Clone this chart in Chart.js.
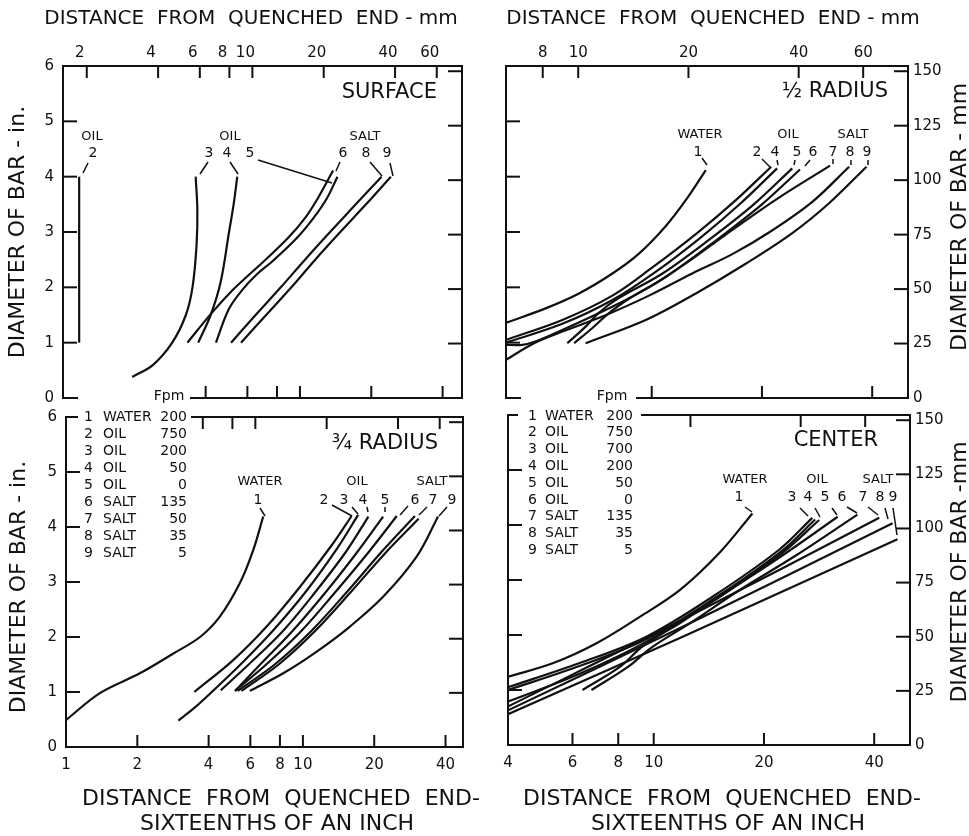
<!DOCTYPE html>
<html>
<head>
<meta charset="utf-8">
<script src="https://cdn.jsdelivr.net/npm/chart.js@4.4.1/dist/chart.umd.min.js"></script>
<style>
  html, body { margin: 0; padding: 0; background: #fff; }
  #wrap { position: relative; width: 969px; height: 836px; }
  #wrap canvas { position: absolute; left: 0; top: 0; }
</style>
</head>
<body>
<div id="wrap">
  <canvas id="surface" width="969" height="836"></canvas>
  <canvas id="half" width="969" height="836"></canvas>
  <canvas id="threeq" width="969" height="836"></canvas>
  <canvas id="center" width="969" height="836"></canvas>
</div>
<script>
// curves: [distance from quenched end (1/16 in), bar diameter (in)]
// surface
const surf2 = [[1.17, 1.0], [1.17, 4.0]];
const surf3 = [[1.96, 0.38], [2.4, 0.6], [2.89, 1.0], [3.3, 1.5], [3.52, 2.0], [3.66, 2.75], [3.69, 3.4], [3.63, 4.0]];
const surf4 = [[3.72, 1.0], [4.2, 1.5], [4.63, 2.1], [5.02, 3.0], [5.25, 3.5], [5.44, 4.0]];
const surf5 = [[3.35, 1.0], [4.21, 1.52], [5.2, 1.95], [6.0, 2.2], [7.08, 2.48], [8.9, 2.89], [10.5, 3.25], [11.9, 3.61], [13.8, 4.11]];
const surf6 = [[4.42, 1.0], [5.0, 1.6], [5.7, 1.95], [6.6, 2.24], [7.7, 2.48], [9.7, 2.89], [11.4, 3.25], [13.0, 3.61], [14.4, 4.0]];
const surf8 = [[5.12, 1.0], [6.5, 1.5], [8.3, 2.0], [10.5, 2.5], [13.4, 3.0], [17.2, 3.5], [22.1, 4.0]];
const surf9 = [[5.64, 1.0], [7.2, 1.5], [9.2, 2.0], [11.6, 2.5], [14.8, 3.0], [19.0, 3.5], [24.2, 4.0]];

// 1/2 radius
const half1 = [[4.0, 1.36], [5.13, 1.62], [6.33, 1.89], [7.81, 2.25], [9.23, 2.61], [10.9, 3.1], [12.4, 3.58], [14.05, 4.12]];
const half2 = [[4.0, 1.05], [5.7, 1.41], [7.81, 1.85], [10.0, 2.35], [13.3, 2.98], [17.0, 3.58], [21.2, 4.18]];
const half4 = [[4.0, 1.0], [5.7, 1.34], [7.81, 1.77], [10.2, 2.27], [13.6, 2.9], [17.5, 3.52], [22.0, 4.15]];
const half5 = [[5.88, 0.99], [6.6, 1.29], [7.2, 1.55], [8.1, 1.8], [10.7, 2.25], [14.6, 2.9], [19.0, 3.5], [24.2, 4.15]];
const half6 = [[6.14, 0.99], [6.9, 1.27], [7.6, 1.52], [8.6, 1.78], [11.0, 2.2], [15.0, 2.85], [20.0, 3.5], [25.4, 4.13]];
const half7 = [[4.0, 0.96], [4.43, 0.96], [4.81, 1.02], [5.7, 1.23], [7.8, 1.65], [9.83, 2.0], [12.5, 2.45], [15.9, 2.95], [22.0, 3.6], [30.7, 4.2]];
const half8 = [[4.0, 0.69], [4.77, 0.99], [5.7, 1.2], [7.5, 1.5], [9.83, 1.85], [12.9, 2.25], [16.6, 2.6], [21.0, 3.0], [27.5, 3.55], [34.6, 4.18]];
const half9 = [[6.6, 0.99], [9.63, 1.41], [13.2, 1.89], [18.1, 2.43], [24.2, 2.98], [30.5, 3.52], [38.6, 4.18]];

// 3/4 radius
const tq1 = [[1.0, 0.49], [1.39, 0.98], [2.05, 1.34], [2.84, 1.7], [3.68, 2.0], [4.46, 2.37], [5.42, 2.98], [6.17, 3.58], [6.8, 4.19]];
const tq2 = [[3.48, 1.0], [5.08, 1.58], [7.03, 2.19], [9.71, 2.91], [13.4, 3.7], [16.05, 4.2]];
const tq3 = [[2.98, 0.48], [3.5, 0.72], [4.17, 1.02], [5.6, 1.55], [7.6, 2.15], [10.4, 2.85], [14.0, 3.62], [17.1, 4.22]];
const tq4 = [[4.5, 1.03], [5.9, 1.5], [8.2, 2.1], [11.2, 2.8], [15.2, 3.55], [18.9, 4.19]];
const tq5 = [[5.17, 1.02], [6.6, 1.5], [9.0, 2.1], [12.4, 2.8], [17.0, 3.55], [21.8, 4.19]];
const tq6 = [[5.17, 1.02], [7.0, 1.5], [9.8, 2.1], [13.6, 2.8], [19.0, 3.55], [24.9, 4.2]];
const tq7 = [[5.3, 1.02], [7.6, 1.5], [10.8, 2.1], [15.2, 2.8], [21.5, 3.55], [29.7, 4.2]];
const tq8 = [[5.5, 1.02], [7.9, 1.5], [11.2, 2.1], [15.8, 2.8], [22.2, 3.52], [30.8, 4.15]];
const tq9 = [[5.97, 1.02], [8.26, 1.34], [11.4, 1.73], [15.8, 2.19], [21.8, 2.73], [30.2, 3.46], [37.2, 4.19]];

// center
const ctr1 = [[4.0, 1.24], [5.32, 1.49], [6.98, 1.85], [9.16, 2.33], [11.8, 2.82], [15.1, 3.49], [18.6, 4.21]];
const ctr2 = [[4.0, 1.0], [6.3, 1.44], [9.6, 1.93], [14.6, 2.66], [22.3, 3.52], [27.6, 4.1]];
const ctr3 = [[4.0, 1.05], [6.28, 1.49], [9.55, 1.97], [14.5, 2.7], [22.0, 3.55], [27.1, 4.13]];
const ctr4 = [[4.0, 0.79], [6.3, 1.3], [9.5, 1.87], [14.5, 2.62], [22.5, 3.5], [28.3, 4.09]];
const ctr5 = [[6.39, 1.0], [8.08, 1.42], [9.35, 1.8], [12.0, 2.25], [16.0, 2.8], [22.5, 3.45], [31.8, 4.15]];
const ctr6 = [[6.76, 1.0], [8.5, 1.42], [9.9, 1.78], [12.6, 2.22], [17.0, 2.8], [24.5, 3.45], [36.0, 4.19]];
const ctr7 = [[4.0, 0.7], [12.0, 2.28], [41.3, 4.13]];
const ctr8 = [[4.0, 0.63], [12.0, 2.15], [44.9, 4.03]];
const ctr9 = [[4.0, 0.56], [12.0, 1.97], [46.3, 3.74]];

// tick values
const inchLabels = [0, 1, 2, 3, 4, 5, 6];
const inchTicks = [1, 2, 3, 4, 5];
const mmDiaLabels = [0, 25, 50, 75, 100, 125, 150];
const mmDiaTicks = [25, 50, 75, 100, 125, 150];
const leftSixteenthLabels = [1, 2, 4, 6, 8, 10, 20, 40];
const rightSixteenthLabels = [4, 6, 8, 10, 20, 40];
const leftMmLabels = [2, 4, 6, 8, 10, 20, 40, 60];
const rightMmLabels = [8, 10, 20, 40, 60];

// legend tables
const legendNoA = [1, 2, 3, 4, 5, 6, 7, 8, 9];
const legendMediumA = ["WATER", "OIL", "OIL", "OIL", "OIL", "SALT", "SALT", "SALT", "SALT"];
const legendFpmA = [200, 750, 200, 50, 0, 135, 50, 35, 5];
const legendNoB = [1, 2, 3, 4, 5, 6, 7, 8, 9];
const legendMediumB = ["WATER", "OIL", "OIL", "OIL", "OIL", "OIL", "SALT", "SALT", "SALT"];
const legendFpmB = [200, 750, 700, 200, 50, 0, 135, 35, 5];

const INK = "#111";
const FONT = '"DejaVu Sans", sans-serif';
const MM_PER_16TH = 1.5875;
const MM_PER_IN = 25.4;
const AX = 44;

Chart.defaults.font.family = FONT;
Chart.defaults.color = INK;

const annotate = {
  id: "annotate",
  afterDraw(chart, args, o) {
    const ctx = chart.ctx;
    const s = chart.scales;
    const a = chart.chartArea;
    const seg = (x1, y1, x2, y2) => {
      ctx.beginPath();
      ctx.moveTo(x1, y1);
      ctx.lineTo(x2, y2);
      ctx.stroke();
    };
    ctx.save();
    ctx.strokeStyle = INK;
    ctx.lineWidth = 2;
    // inward tick marks
    o.tickX.forEach((v) => { const x = s.x.getPixelForValue(v); seg(x, a.bottom, x, a.bottom - 12); });
    o.tickX2.forEach((v) => { const x = s.x2.getPixelForValue(v * MM_PER_16TH); seg(x, a.top, x, a.top + 12); });
    inchTicks.forEach((v) => { const y = s.y.getPixelForValue(v); seg(a.left, y, a.left + 14, y); });
    mmDiaTicks.forEach((v) => { const y = s.y2.getPixelForValue(v); seg(a.right, y, a.right - 14, y); });
    // breaks in the frame
    ctx.fillStyle = "#fff";
    o.gaps.forEach((g) => ctx.fillRect(g[0], g[1], g[2] - g[0], g[3] - g[1]));
    // leaders
    ctx.lineWidth = 1.5;
    o.leaders.forEach((l) => seg(l[0], l[1], l[2], l[3]));
    // texts
    ctx.fillStyle = INK;
    ctx.textBaseline = "middle";
    o.texts.forEach((t) => {
      ctx.font = (t[3] || 14) + "px " + FONT;
      ctx.textAlign = t[4] || "center";
      ctx.fillText(t[0], t[1], t[2]);
    });
    o.vtexts.forEach((t) => {
      ctx.save();
      ctx.translate(t[1], t[2]);
      ctx.rotate(-Math.PI / 2);
      ctx.font = t[3] + "px " + FONT;
      ctx.textAlign = "center";
      ctx.fillText(t[0], 0, 0);
      ctx.restore();
    });
    if (o.legend) {
      const L = o.legend;
      ctx.font = "14px " + FONT;
      L.no.forEach((n, i) => {
        const y = L.y0 + i * L.dy;
        ctx.textAlign = "right";
        ctx.fillText(String(n), L.xNo, y);
        ctx.textAlign = "left";
        ctx.fillText(L.medium[i], L.xName, y);
        ctx.textAlign = "right";
        ctx.fillText(String(L.fpm[i]), L.xFpm, y);
      });
    }
    ctx.restore();
  },
};

function axis(type, position, min, max, labels, pad, extra) {
  return Object.assign({
    type: type,
    position: position,
    min: min,
    max: max,
    grid: { display: false, drawTicks: false },
    border: { display: true, color: INK, width: 2 },
    ticks: {
      display: labels.length > 0,
      autoSkip: false,
      maxRotation: 0,
      padding: pad,
      color: INK,
      font: { size: 15 },
      callback: (v) => String(v),
    },
    afterBuildTicks: (sc) => {
      const vals = labels.length > 0 ? labels : [min, max];
      sc.ticks = vals.map((v) => ({ value: v }));
    },
    afterFit: (sc) => {
      if (sc.isHorizontal()) sc.height = AX;
      else sc.width = AX;
    },
  }, extra || {});
}

function makePanel(id, p) {
  const [l, r, t, b] = p.area;
  new Chart(document.getElementById(id), {
    type: "scatter",
    data: {
      datasets: p.series.map((pts) => ({
        data: pts.map(([x, y]) => ({ x: x, y: y })),
        showLine: true,
        borderColor: INK,
        borderWidth: 2.2,
        pointRadius: 0,
        tension: 0.35,
        fill: false,
      })),
    },
    options: {
      responsive: false,
      animation: false,
      devicePixelRatio: 1,
      events: [],
      layout: { padding: { left: l - AX, right: 969 - r - AX, top: t - AX, bottom: 836 - b - AX } },
      scales: {
        x: axis("logarithmic", "bottom", p.xMin, p.xMax, p.xLabels, 9),
        x2: axis("logarithmic", "top", p.xMin * MM_PER_16TH, p.xMax * MM_PER_16TH,
          p.mmLabels.map((v) => v), 4, p.x2Extra),
        y: axis("linear", "left", 0, 6, p.inLabels, 9),
        y2: axis("linear", "right", 0, 6 * MM_PER_IN, p.mmDiaLabels, 5),
      },
      plugins: {
        legend: { display: false },
        tooltip: { enabled: false },
        annotate: p.annot,
      },
    },
    plugins: [annotate],
  });
}

makePanel("surface", {
  area: [63, 462, 66, 398],
  xMin: 1, xMax: 48.3,
  xLabels: [], mmLabels: leftMmLabels, inLabels: inchLabels, mmDiaLabels: [],
  x2Extra: { ticks: { display: true, autoSkip: false, maxRotation: 0, padding: 4, labelOffset: -7, color: INK, font: { size: 15 }, callback: (v) => String(v) } },
  series: [surf2, surf3, surf4, surf5, surf6, surf8, surf9],
  annot: {
    tickX: [4, 6, 8, 10, 20, 40],
    tickX2: [2, 4, 6, 8, 10, 20, 40, 60].map((v) => v / MM_PER_16TH),
    gaps: [[78, 393, 190, 403]],
    leaders: [[88, 163, 83, 173], [208, 162, 200, 174], [230, 162, 238, 174], [258, 160, 332, 183],
      [340, 162, 336, 171], [370, 162, 382, 176], [390, 163, 393, 176]],
    texts: [
      ["SURFACE", 437, 93, 21, "right"],
      ["OIL", 92, 137, 13], ["2", 93, 153, 14],
      ["OIL", 230, 137, 13], ["3", 209, 153, 14], ["4", 227, 153, 14], ["5", 250, 153, 14],
      ["SALT", 365, 137, 13], ["6", 343, 153, 14], ["8", 366, 153, 14], ["9", 387, 153, 14],
      ["Fpm", 169, 396, 14],
      ["DISTANCE  FROM  QUENCHED  END - mm", 251, 19, 20],
    ],
    vtexts: [["DIAMETER OF BAR - in.", 18, 232, 22]],
  },
});

makePanel("half", {
  area: [506, 908, 66, 398],
  xMin: 4, xMax: 50.1,
  xLabels: [], mmLabels: rightMmLabels, inLabels: [], mmDiaLabels: mmDiaLabels,
  series: [half1, half2, half4, half5, half6, half7, half8, half9],
  annot: {
    tickX: [10, 20, 40],
    tickX2: rightMmLabels.map((v) => v / MM_PER_16TH),
    gaps: [[521, 393, 636, 403]],
    leaders: [[702, 158, 707, 165], [762, 159, 770, 167], [777, 160, 778, 165], [795, 160, 794, 165],
      [810, 160, 805, 166], [833, 159, 833, 164], [851, 160, 851, 165], [868, 160, 868, 165]],
    texts: [
      ["\u00BD RADIUS", 888, 92, 21, "right"],
      ["WATER", 700, 135, 13], ["1", 698, 152, 14],
      ["OIL", 788, 135, 13], ["SALT", 853, 135, 13],
      ["2", 757, 152, 14], ["4", 775, 152, 14], ["5", 797, 152, 14], ["6", 813, 152, 14],
      ["7", 833, 152, 14], ["8", 850, 152, 14], ["9", 867, 152, 14],
      ["Fpm", 612, 396, 14],
      ["DISTANCE  FROM  QUENCHED  END - mm", 713, 19, 20],
    ],
    vtexts: [["DIAMETER OF BAR - mm", 960, 217, 22]],
  },
});

makePanel("threeq", {
  area: [66, 463, 417, 747],
  xMin: 1, xMax: 47.4,
  xLabels: leftSixteenthLabels, mmLabels: [], inLabels: inchLabels, mmDiaLabels: [],
  series: [tq1, tq2, tq3, tq4, tq5, tq6, tq7, tq8, tq9],
  annot: {
    tickX: [2, 4, 6, 8, 10, 20, 40],
    tickX2: [6, 8, 10, 20, 40, 60].map((v) => v / MM_PER_16TH),
    gaps: [[78, 412, 191, 422]],
    leaders: [[260, 508, 265, 516], [332, 505, 352, 516], [352, 507, 358, 514], [367, 507, 368, 512],
      [385, 507, 385, 512], [408, 506, 400, 515], [427, 507, 419, 515], [447, 507, 439, 516]],
    texts: [
      ["\u00BE RADIUS", 438, 444, 21, "right"],
      ["WATER", 260, 482, 13], ["1", 258, 500, 14],
      ["OIL", 357, 482, 13], ["SALT", 432, 482, 13],
      ["2", 324, 500, 14], ["3", 344, 500, 14], ["4", 363, 500, 14], ["5", 385, 500, 14],
      ["6", 415, 500, 14], ["7", 433, 500, 14], ["9", 452, 500, 14],
      ["DISTANCE  FROM  QUENCHED  END-", 281, 799, 22],
      ["SIXTEENTHS OF AN INCH", 277, 824, 22],
    ],
    vtexts: [["DIAMETER OF BAR - in.", 19, 587, 22]],
    legend: { no: legendNoA, medium: legendMediumA, fpm: legendFpmA, xNo: 93, xName: 103, xFpm: 187, y0: 417, dy: 17 },
  },
});

makePanel("center", {
  area: [508, 910, 415, 745],
  xMin: 4, xMax: 50.1,
  xLabels: rightSixteenthLabels, mmLabels: [], inLabels: [], mmDiaLabels: mmDiaLabels,
  series: [ctr1, ctr2, ctr3, ctr4, ctr5, ctr6, ctr7, ctr8, ctr9],
  annot: {
    tickX: [6, 8, 10, 20, 40],
    tickX2: [20, 40, 60].map((v) => v / MM_PER_16TH),
    gaps: [[518, 410, 641, 420]],
    leaders: [[745, 507, 752, 512], [800, 508, 808, 516], [815, 508, 820, 517], [832, 508, 837, 515],
      [847, 507, 857, 513], [868, 507, 878, 515], [885, 508, 888, 519], [893, 508, 897, 535]],
    texts: [
      ["CENTER", 878, 441, 21, "right"],
      ["WATER", 745, 480, 13], ["1", 739, 497, 14],
      ["OIL", 817, 480, 13], ["SALT", 878, 480, 13],
      ["3", 792, 497, 14], ["4", 808, 497, 14], ["5", 825, 497, 14], ["6", 842, 497, 14],
      ["7", 863, 497, 14], ["8", 880, 497, 14], ["9", 893, 497, 14],
      ["DISTANCE  FROM  QUENCHED  END-", 722, 799, 22],
      ["SIXTEENTHS OF AN INCH", 728, 824, 22],
    ],
    vtexts: [["DIAMETER OF BAR -mm", 960, 572, 22]],
    legend: { no: legendNoB, medium: legendMediumB, fpm: legendFpmB, xNo: 537, xName: 545, xFpm: 633, y0: 416, dy: 16.8 },
  },
});
</script>
</body>
</html>
